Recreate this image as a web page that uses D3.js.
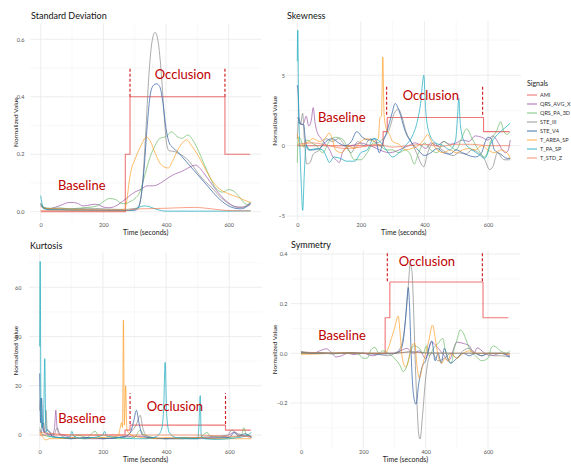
<!DOCTYPE html>
<html>
<head>
<meta charset="utf-8">
<script src="https://cdn.jsdelivr.net/npm/d3@7"></script>
<style>
  body { margin: 0; background: #fff; }
  text { font-family: Lato, "Open Sans", sans-serif; }
</style>
</head>
<body>
<div id="chart"></div>
<script>
const width = 571,
    height = 464;

const signals = ["AMI", "QRS_AVG_X", "QRS_PA_3D", "STE_III", "STE_V4", "T_AREA_SP", "T_PA_SP", "T_STD_Z"];
const colors = ["#e41a1c", "#984ea3", "#4daf4a", "#8a8a8a", "#3a68a8", "#ff9410", "#17aabd", "#f46d43"];
const opacity = [0.6, 0.75, 0.65, 0.8, 0.85, 0.7, 0.8, 0.7];
const xTickVals = [0, 200, 400, 600];
const xMinorVals = [100, 300, 500];

// ---- Standard Deviation  [time, value]
const sd_AMI = [[0,0],[270,0.2],[285,0.4],[588,0.2],[668,0.2]];
const sd_QRS_AVG_X = [[0,0.02],[10,0.012],[25,0.01],[45,0.015],[70,0.025],[90,0.032],[105,0.032],[120,0.028],[135,0.02],[150,0.022],[170,0.026],[185,0.024],[200,0.016],[220,0.014],[240,0.02],[260,0.035],[280,0.052],[300,0.068],[320,0.078],[340,0.09],[360,0.09],[375,0.095],[390,0.105],[410,0.12],[430,0.132],[450,0.14],[470,0.152],[485,0.16],[495,0.162],[505,0.155],[520,0.135],[540,0.105],[560,0.075],[580,0.05],[600,0.03],[620,0.018],[640,0.015],[660,0.02],[670,0.025]];
const sd_QRS_PA_3D = [[0,0.03],[10,0.015],[30,0.012],[60,0.013],[90,0.01],[120,0.012],[150,0.015],[180,0.02],[200,0.035],[220,0.046],[240,0.042],[255,0.03],[270,0.028],[285,0.035],[300,0.045],[317,0.07],[333,0.13],[349,0.19],[365,0.23],[380,0.255],[400,0.262],[418,0.278],[435,0.262],[450,0.255],[470,0.267],[485,0.25],[500,0.22],[520,0.17],[540,0.12],[560,0.08],[580,0.068],[600,0.077],[615,0.072],[635,0.05],[650,0.03],[660,0.025],[670,0.035]];
const sd_STE_III = [[0,0.03],[10,0.015],[30,0.01],[60,0.012],[100,0.01],[150,0.012],[200,0.01],[250,0.008],[270,0.008],[290,0.01],[305,0.012],[315,0.025],[325,0.1],[335,0.27],[345,0.47],[355,0.59],[365,0.624],[375,0.59],[385,0.48],[395,0.32],[402,0.235],[410,0.212],[425,0.21],[445,0.2],[465,0.185],[485,0.16],[505,0.13],[525,0.105],[545,0.085],[565,0.06],[585,0.04],[605,0.025],[625,0.016],[645,0.016],[660,0.024],[670,0.03]];
const sd_STE_V4 = [[0,0.025],[10,0.012],[30,0.008],[60,0.008],[100,0.006],[150,0.007],[200,0.006],[250,0.005],[280,0.004],[300,0.005],[310,0.01],[320,0.05],[330,0.15],[340,0.3],[350,0.41],[360,0.44],[370,0.445],[380,0.435],[390,0.38],[400,0.29],[410,0.24],[420,0.225],[440,0.205],[460,0.18],[480,0.155],[500,0.13],[520,0.105],[540,0.08],[560,0.055],[580,0.035],[600,0.02],[620,0.012],[640,0.01],[660,0.02],[670,0.03]];
const sd_T_AREA_SP = [[0,0.02],[10,0.012],[30,0.01],[60,0.01],[100,0.008],[150,0.007],[200,0.006],[250,0.006],[268,0.008],[275,0.04],[283,0.11],[290,0.15],[300,0.18],[320,0.23],[338,0.26],[350,0.245],[365,0.205],[380,0.17],[395,0.155],[407,0.152],[420,0.175],[440,0.22],[455,0.243],[466,0.25],[480,0.232],[500,0.2],[520,0.16],[540,0.12],[560,0.09],[580,0.072],[600,0.062],[630,0.05],[650,0.04],[670,0.032]];
const sd_T_PA_SP = [[0,0.056],[4,0.03],[10,0.01],[30,0.006],[100,0.005],[200,0.004],[280,0.004],[300,0.008],[315,0.016],[330,0.02],[345,0.018],[365,0.01],[385,0.004],[400,0.002],[500,0.002],[600,0.002],[670,0.003]];
const sd_T_STD_Z = [[0,0.004],[100,0.003],[200,0.003],[270,0.003],[290,0.008],[320,0.01],[360,0.011],[400,0.012],[450,0.014],[490,0.015],[520,0.013],[560,0.008],[600,0.004],[640,0.003],[670,0.003]];

// ---- Skewness
const sk_AMI = [[0,0],[270,1],[283,2],[586,1],[668,1]];
const sk_QRS_AVG_X = [[0,2.0],[6,1.8],[12,1.5],[20,1.6],[28,2.1],[36,1.4],[44,1.8],[50,2.7],[56,1.6],[62,1.0],[72,0.6],[82,0.3],[92,0.0],[102,-0.3],[112,-0.8],[122,-1.0],[132,-1.2],[142,-0.5],[155,-0.1],[170,0.0],[185,0.1],[200,0.2],[215,0.1],[230,0.0],[250,-0.2],[270,-0.4],[290,-0.5],[310,-0.4],[330,-0.2],[350,0.0],[370,0.2],[390,0.0],[405,-0.2],[420,0.2],[440,0.0],[460,0.3],[480,0.1],[500,0.2],[520,0.4],[540,0.3],[560,0.7],[580,0.6],[600,0.4],[615,0.7],[630,0.3],[645,-0.3],[655,-0.5],[662,-0.4],[670,0.4]];
const sk_QRS_PA_3D = [[0,-1.2],[3,0.6],[10,0.5],[20,-0.1],[30,0.4],[45,0.2],[60,0.0],[80,-0.5],[100,0.3],[120,0.6],[140,0.5],[160,-0.2],[180,-1.0],[200,-1.0],[220,-0.5],[240,0.2],[260,0.0],[280,-0.3],[300,-0.3],[320,-0.5],[340,-0.3],[355,-0.6],[368,-1.3],[380,-0.6],[400,0.2],[420,-0.3],[440,-0.5],[460,0.3],[480,0.0],[500,-0.3],[515,0.4],[533,1.2],[550,0.5],[570,-0.3],[590,-0.8],[610,0.4],[628,1.1],[640,1.7],[650,1.0],[660,0.8],[670,1.0]];
const sk_STE_III = [[0,0.5],[5,2.0],[10,1.5],[17,2.3],[22,0.5],[30,-1.3],[40,-1.2],[50,-0.6],[70,-0.3],[90,0.5],[110,0.3],[130,0.5],[150,0.0],[170,-0.5],[190,0.3],[210,0.0],[230,0.5],[250,0.2],[270,0.5],[290,1.2],[305,2.3],[318,2.6],[330,2.0],[342,1.0],[360,0.2],[375,-0.5],[390,-1.3],[398,-1.5],[410,-0.5],[430,0.2],[450,-0.2],[470,-0.5],[490,-0.7],[510,-0.5],[530,-0.6],[550,-0.3],[570,-0.5],[590,-1.0],[605,-1.7],[615,-1.5],[630,-0.5],[650,-1.0],[670,-1.0]];
const sk_STE_V4 = [[0,4.3],[3,3.5],[6,1.6],[10,1.6],[15,1.5],[20,1.5],[25,0.5],[35,-0.3],[50,-0.3],[70,-0.2],[90,0.3],[110,0.5],[130,0.2],[150,0.0],[170,0.3],[187,1.0],[205,0.6],[225,0.4],[245,0.5],[258,-0.5],[270,0.3],[282,1.0],[298,2.3],[308,3.0],[320,2.5],[340,1.0],[360,0.2],[380,-0.3],[400,-0.7],[420,-0.5],[440,-0.2],[460,-0.5],[480,-0.6],[500,-0.3],[520,-0.5],[540,-0.7],[560,-0.8],[580,-0.5],[590,0.2],[600,0.6],[610,0.5],[620,-0.3],[640,-0.6],[660,-0.9],[670,-0.9]];
const sk_T_AREA_SP = [[0,0.8],[10,0.0],[30,0.2],[50,0.5],[70,0.3],[90,0.6],[100,0.9],[110,0.5],[120,-0.3],[140,-0.5],[160,0.0],[180,-0.2],[200,0.3],[220,0.5],[240,0.3],[255,0.5],[260,2.0],[265,2.1],[269,6.3],[273,2.2],[280,1.2],[290,0.8],[300,0.3],[320,0.1],[340,-0.3],[360,-0.2],[380,0.0],[400,0.5],[410,0.8],[420,0.4],[440,-0.3],[460,-0.5],[480,-0.3],[500,-0.5],[520,-0.3],[540,-0.2],[560,-0.3],[580,0.0],[600,-0.3],[620,-0.5],[640,-0.3],[660,-0.5],[670,-0.9]];
const sk_T_PA_SP = [[0,6.0],[1.5,8.2],[4,3],[8,0],[12,-2.5],[17,-4.6],[22,-2],[28,0],[40,-0.3],[60,-0.2],[80,-0.3],[92,-0.8],[101,-1.2],[115,-0.8],[135,-0.9],[155,-1.1],[180,-1.1],[200,-0.5],[220,-0.3],[240,0.5],[260,0.3],[280,-0.3],[300,-0.8],[320,-0.5],[340,0.0],[360,0.6],[375,1.5],[388,3.0],[398,5.0],[404,2.5],[415,0.9],[435,0.2],[460,0.0],[480,-0.3],[498,0.4],[504,2.0],[508,3.4],[513,1.5],[525,0.3],[550,-0.3],[570,-0.6],[590,-0.9],[610,0.2],[630,0.8],[650,1.2],[670,1.6]];
const sk_T_STD_Z = [[0,0.1],[50,0.2],[100,0.0],[150,-0.2],[200,-0.1],[250,0.1],[300,-0.1],[350,0.0],[400,0.1],[450,-0.05],[500,0.1],[550,0.1],[600,0.0],[650,0.0],[670,0.0]];

// ---- Kurtosis
const ku_AMI = [[0,0],[270,2],[286,4],[588,2],[668,2]];
const ku_QRS_AVG_X = [[0,2],[5,1],[10,5],[15,1],[25,0.5],[40,0],[47,3],[51,10],[55,3],[62,0.5],[75,0],[100,-1],[150,-1.5],[200,-1.5],[250,-1],[300,-0.5],[350,-1],[400,-1.5],[450,-1],[500,-1],[550,-1],[590,-0.5],[605,0.5],[615,1.2],[630,0],[670,-0.5]];
const ku_QRS_PA_3D = [[0,3],[10,0],[50,-1],[100,-1.5],[120,0],[150,-1],[175,1.5],[190,-1],[250,-1.5],[300,-1],[318,2],[330,0],[400,-1.5],[460,-1],[500,-1.5],[530,1],[540,-0.5],[600,-1],[638,0],[646,3],[654,0],[670,-0.5]];
const ku_STE_III = [[0,10],[3,15],[6,3],[12,5],[16,1],[20,10],[24,2],[35,1],[45,0],[55,3],[65,0],[100,-1.5],[150,-1],[200,-1.5],[250,-1],[275,-0.5],[290,1.5],[305,4],[318,8],[326,3],[340,-0.5],[370,-1.5],[400,-1.5],[450,-1.5],[500,-1],[560,-0.5],[595,0],[608,2],[620,1],[640,0],[670,-1]];
const ku_STE_V4 = [[0,25],[3,5],[6,15],[10,3],[15,1],[25,2],[40,-0.5],[60,-1],[100,-1.5],[150,-1],[200,-1.5],[250,-1],[280,0],[290,2],[298,6],[306,10],[314,5],[325,0],[340,-1],[400,-1.5],[500,-1.5],[600,-1],[615,1],[630,-0.5],[650,0.5],[670,-1]];
const ku_T_AREA_SP = [[0,1],[10,-1],[20,-2],[30,-1.5],[60,-1.5],[100,-1],[140,-1.5],[200,-1],[248,-0.5],[255,3],[259,5],[262,3],[265,46.7],[268,4],[272,20],[276,2],[290,0],[320,-1],[360,-1.5],[400,-1],[450,-1.5],[500,-1],[550,-1.5],[600,-1.5],[670,-1.5]];
const ku_T_PA_SP = [[0,36],[1.5,70.5],[4,12],[8,3],[12,6],[16,31],[19,6],[23,1],[30,-0.5],[60,-1],[95,-1],[102,1.5],[108,-0.5],[140,-1.5],[170,-1],[200,0],[205,1.5],[212,-0.5],[250,-1],[300,-1.5],[340,-1.5],[370,-0.5],[385,2],[392,10],[397,29.5],[402,8],[410,1],[430,-1],[470,-1.5],[500,-1.5],[504,4],[508,16],[511,0],[520,-1.5],[560,-1.8],[600,-1.5],[630,-1],[650,-0.5],[670,1]];
const ku_T_STD_Z = [[0,1],[50,0.5],[100,0],[200,0],[300,0],[400,0],[500,0],[600,-0.5],[670,-0.5]];

// ---- Symmetry
const sy_AMI = [[0,0],[270,0.143],[285,0.287],[584,0.143],[665,0.143]];
const sy_QRS_AVG_X = [[0,0.005],[40,0.0],[60,0.01],[82,0.018],[100,0.0],[112,-0.015],[130,-0.01],[150,0.0],[170,-0.005],[200,0.0],[230,-0.01],[260,0.0],[300,0.0],[320,0.01],[340,0.02],[360,0.0],[380,0.01],[400,-0.02],[419,0.045],[440,0.02],[460,-0.01],[470,-0.03],[480,-0.02],[490,0.02],[500,0.045],[520,0.04],[540,0.03],[555,0.0],[565,0.022],[590,0.0],[610,-0.01],[640,0.0],[670,-0.01]];
const sy_QRS_PA_3D = [[0,0.0],[60,0.0],[120,0.0],[180,0.0],[200,-0.02],[212,-0.02],[225,0.015],[237,0.024],[250,0.0],[262,0.01],[280,0.0],[300,-0.02],[318,-0.05],[328,-0.074],[340,-0.05],[350,0.0],[362,0.03],[380,0.02],[392,0.0],[402,0.03],[412,-0.01],[425,0.02],[440,0.04],[455,0.06],[462,0.02],[472,-0.02],[482,-0.04],[492,0.02],[502,0.06],[510,0.094],[518,0.088],[528,0.06],[540,0.02],[560,-0.01],[580,-0.03],[600,-0.02],[610,0.02],[618,0.03],[640,0.01],[660,0.0],[670,0.01]];
const sy_STE_III = [[0,0.005],[30,0.0],[60,0.003],[100,-0.003],[150,0.002],[200,0.0],[250,-0.005],[280,-0.01],[300,0.0],[318,0.02],[330,0.08],[340,0.2],[346,0.3],[350,0.36],[356,0.33],[362,0.15],[367,-0.05],[372,-0.2],[378,-0.33],[382,-0.345],[390,-0.25],[400,-0.1],[410,-0.02],[420,0.0],[440,-0.03],[460,-0.02],[480,0.0],[500,-0.02],[520,0.01],[540,0.02],[560,0.0],[580,-0.01],[600,0.0],[620,-0.01],[640,-0.01],[670,-0.015]];
const sy_STE_V4 = [[0,0.005],[50,0.0],[100,0.0],[150,0.002],[200,0.0],[250,-0.003],[300,0.0],[318,0.01],[328,0.05],[336,0.15],[341,0.23],[344,0.265],[348,0.2],[352,0.05],[356,-0.08],[360,-0.155],[365,-0.195],[369,-0.205],[378,-0.12],[390,-0.05],[400,-0.03],[410,0.02],[420,0.05],[430,-0.03],[440,0.0],[450,-0.04],[460,0.02],[470,-0.02],[480,-0.04],[500,-0.02],[520,0.0],[540,-0.01],[560,0.0],[580,-0.01],[600,0.0],[640,0.0],[670,-0.015]];
const sy_T_AREA_SP = [[0,-0.004],[50,-0.003],[100,0.0],[150,0.002],[200,0.0],[250,0.0],[270,0.0],[280,0.02],[290,0.06],[300,0.1],[312,0.15],[318,0.08],[325,-0.02],[335,-0.055],[345,-0.03],[355,0.03],[365,0.04],[372,-0.05],[380,-0.1],[390,-0.05],[400,0.0],[410,0.05],[422,0.114],[432,0.05],[442,-0.02],[452,-0.04],[462,-0.02],[472,-0.03],[482,0.0],[500,-0.02],[520,0.0],[540,0.01],[560,0.0],[580,0.0],[600,0.0],[620,0.0],[640,0.0],[670,-0.005]];
const sy_T_PA_SP = [[0,0.005],[100,0.0],[200,0.0],[300,0.0],[350,0.006],[400,0.002],[500,0.0],[600,0.0],[670,0.0]];
const sy_T_STD_Z = [[0,0.005],[150,0.0],[300,0.0],[350,0.006],[400,0.001],[670,0.0]];

// annotations: [time, value] of text centres, dashed marker times and value span
const panels = [
  { title: "Standard Deviation", series: [sd_AMI, sd_QRS_AVG_X, sd_QRS_PA_3D, sd_STE_III, sd_STE_V4, sd_T_AREA_SP, sd_T_PA_SP, sd_T_STD_Z],
    x0: 40.7, x600: 228.7, yA: [0, 211.7], yB: [0.6, 39.3], ydom: [-0.031, 0.655],
    yTicks: [0, 0.2, 0.4, 0.6], yMinor: [0.1, 0.3, 0.5], fmt: ".1f", yLab: 24.5, yTitle: 16, xLabY: 225, xTitleY: 233,
    occ: [454, 0.476], base: [131, 0.093], dash: [285, 588], dashV: [0.4, 0.5], tx: 31, ty: 16 },
  { title: "Skewness", series: [sk_AMI, sk_QRS_AVG_X, sk_QRS_PA_3D, sk_STE_III, sk_STE_V4, sk_T_AREA_SP, sk_T_PA_SP, sk_T_STD_Z],
    x0: 297.3, x600: 488, yA: [0, 145.7], yB: [5, 75.3], ydom: [-5.3, 8.84],
    yTicks: [-5, 0, 5], yMinor: [-2.5, 2.5, 7.5], fmt: "d", yLab: 285, yTitle: 275, xLabY: 225, xTitleY: 233,
    occ: [420, 3.55], base: [140, 2.0], dash: [281, 583], dashV: [2.2, 4.3], tx: 287, ty: 16 },
  { title: "Kurtosis", series: [ku_AMI, ku_QRS_AVG_X, ku_QRS_PA_3D, ku_STE_III, ku_STE_V4, ku_T_AREA_SP, ku_T_PA_SP, ku_T_STD_Z],
    x0: 39.7, x600: 229.3, yA: [0, 435], yB: [60, 287.3], ydom: [-5.6, 74.1],
    yTicks: [0, 20, 40, 60], yMinor: [10, 30, 50, 70], fmt: "d", yLab: 21.5, yTitle: 16, xLabY: 452.5, xTitleY: 460,
    occ: [428, 11.8], base: [134, 6.8], dash: [286, 588], dashV: [4.5, 17], tx: 30, ty: 246 },
  { title: "Symmetry", series: [sy_AMI, sy_QRS_AVG_X, sy_QRS_PA_3D, sy_STE_III, sy_STE_V4, sy_T_AREA_SP, sy_T_PA_SP, sy_T_STD_Z],
    x0: 301, x600: 488, yA: [0, 353.3], yB: [0.4, 254], ydom: [-0.384, 0.415],
    yTicks: [-0.2, 0, 0.2, 0.4], yMinor: [-0.3, -0.1, 0.1, 0.3], fmt: ".1f", yLab: 287.5, yTitle: 275, xLabY: 452.5, xTitleY: 460,
    occ: [404, 0.371], base: [131.5, 0.072], dash: [277, 582], dashV: [0.29, 0.41], tx: 291, ty: 245 }
];

const svg = d3.select("#chart")
    .append("svg")
    .attr("width", width)
    .attr("height", height);

svg.append("rect").attr("width", width).attr("height", height).attr("fill", "#fff");

panels.forEach(function (p) {
  const x = d3.scaleLinear().domain([0, 600]).range([p.x0, p.x600]);
  const y = d3.scaleLinear().domain([p.yA[0], p.yB[0]]).range([p.yA[1], p.yB[1]]);
  const xl = x(-33.5), xr = x(703.5);
  const yb = y(p.ydom[0]), yt = y(p.ydom[1]);
  const g = svg.append("g");

  // grid, minor first
  g.selectAll(".vmin").data(xMinorVals).enter().append("line")
    .attr("x1", d => x(d)).attr("x2", d => x(d)).attr("y1", yt).attr("y2", yb)
    .attr("stroke", "#f4f4f4").attr("stroke-width", 0.6);
  g.selectAll(".hmin").data(p.yMinor).enter().append("line")
    .attr("x1", xl).attr("x2", xr).attr("y1", d => y(d)).attr("y2", d => y(d))
    .attr("stroke", "#f4f4f4").attr("stroke-width", 0.6);
  g.selectAll(".vmaj").data(xTickVals).enter().append("line")
    .attr("x1", d => x(d)).attr("x2", d => x(d)).attr("y1", yt).attr("y2", yb)
    .attr("stroke", "#e9e9e9").attr("stroke-width", 0.8);
  g.selectAll(".hmaj").data(p.yTicks).enter().append("line")
    .attr("x1", xl).attr("x2", xr).attr("y1", d => y(d)).attr("y2", d => y(d))
    .attr("stroke", "#e9e9e9").attr("stroke-width", 0.8);

  // axes (labels only, like theme_minimal)
  const xAxis = d3.axisBottom(x).tickValues(xTickVals).tickSize(0).tickPadding(0);
  const yAxis = d3.axisLeft(y).tickValues(p.yTicks).tickSize(0).tickPadding(0).tickFormat(d3.format(p.fmt));
  const gx = g.append("g").attr("transform", "translate(0," + (p.xLabY - 2) + ")").call(xAxis);
  const gy = g.append("g").attr("transform", "translate(" + p.yLab + ",0)").call(yAxis);
  [gx, gy].forEach(function (a) {
    a.select(".domain").remove();
    a.selectAll("text").attr("fill", "#555").style("font-size", "5.5px").style("font-family", "Lato, sans-serif");
  });

  g.append("text").attr("x", (xl + xr) / 2).attr("y", p.xTitleY).attr("dy", "0.35em")
    .attr("text-anchor", "middle").attr("fill", "#222").style("font-size", "7px").text("Time (seconds)");
  g.append("text").attr("transform", "translate(" + p.yTitle + "," + ((yt + yb) / 2) + ") rotate(-90)")
    .attr("dy", "0.35em").attr("text-anchor", "middle").attr("fill", "#222").style("font-size", "6.5px").text("Normalized Value");
  g.append("text").attr("x", p.tx).attr("y", p.ty).attr("dy", "0.35em")
    .attr("fill", "#111").style("font-size", "9px").text(p.title);

  // signal lines
  const line = d3.line().x(d => x(d[0])).y(d => y(d[1])).curve(d3.curveMonotoneX);
  const step = d3.line().x(d => x(d[0])).y(d => y(d[1])).curve(d3.curveStepAfter);
  p.series.forEach(function (s, i) {
    g.append("path").datum(s)
      .attr("d", i === 0 ? step : line)
      .attr("fill", "none")
      .attr("stroke", colors[i])
      .attr("stroke-opacity", opacity[i])
      .attr("stroke-width", i === 0 ? 1.1 : 0.9)
      .attr("stroke-linejoin", "round");
  });

  // dashed occlusion markers
  g.selectAll(".dash").data(p.dash).enter().append("line")
    .attr("x1", d => x(d)).attr("x2", d => x(d))
    .attr("y1", y(p.dashV[0])).attr("y2", y(p.dashV[1]))
    .attr("stroke", "#d0262a").attr("stroke-width", 1.2).attr("stroke-dasharray", "3,2");

  g.append("text").attr("x", x(p.occ[0])).attr("y", y(p.occ[1])).attr("dy", "0.35em")
    .attr("text-anchor", "middle").attr("fill", "#c00000").style("font-size", "13px").text("Occlusion");
  g.append("text").attr("x", x(p.base[0])).attr("y", y(p.base[1])).attr("dy", "0.35em")
    .attr("text-anchor", "middle").attr("fill", "#c00000").style("font-size", "13px").text("Baseline");
});

// legend
const leg = svg.append("g").attr("transform", "translate(527,0)");
leg.append("text").attr("x", 0).attr("y", 84).attr("dy", "0.35em")
  .attr("fill", "#222").style("font-size", "7px").text("Signals");
const items = leg.selectAll(".item").data(signals).enter().append("g")
  .attr("transform", (d, i) => "translate(0," + (95 + i * 9.0) + ")");
items.append("line").attr("x1", 0).attr("x2", 10).attr("y1", 0).attr("y2", 0)
  .attr("stroke", (d, i) => colors[i]).attr("stroke-opacity", (d, i) => opacity[i]).attr("stroke-width", 1.1);
items.append("text").attr("x", 13).attr("y", 0).attr("dy", "0.35em")
  .attr("fill", "#333").style("font-size", "5.5px").text(d => d);
</script>
</body>
</html>
